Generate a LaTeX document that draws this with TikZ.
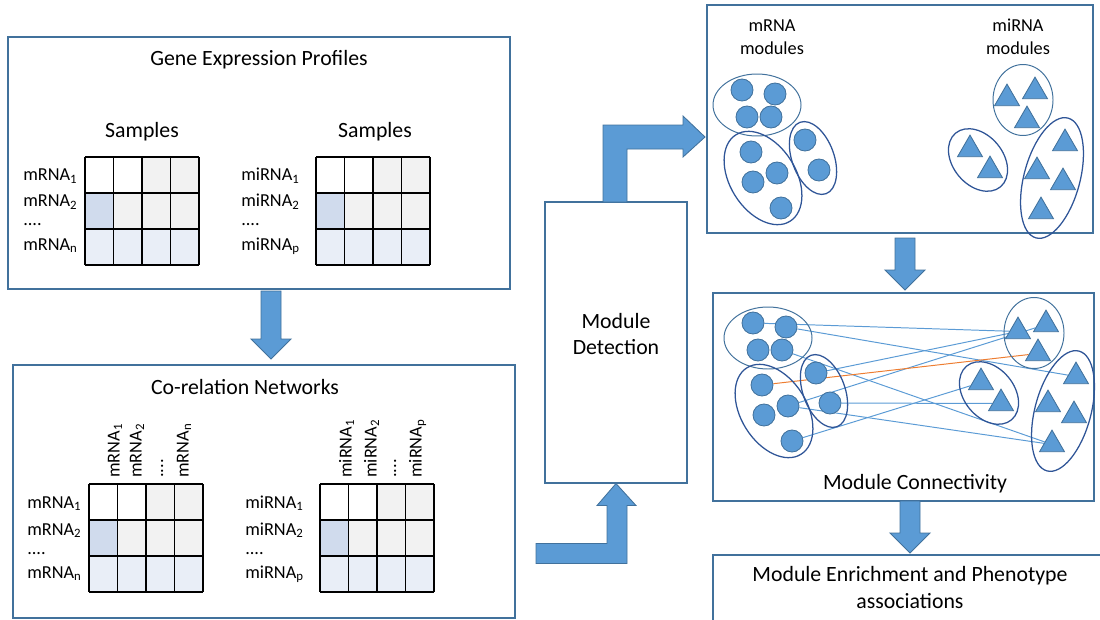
\documentclass[tikz,border=0pt]{standalone}
\usepackage{fontspec}
\setmainfont{Carlito}
\usetikzlibrary{fit,backgrounds,shapes.geometric}

\definecolor{boxblue}{HTML}{41719C}
\definecolor{fillblue}{HTML}{5B9BD5}
\definecolor{ringdark}{HTML}{2F5597}
\definecolor{linkorange}{HTML}{ED7D31}
\definecolor{cellgray}{HTML}{F2F2F2}
\definecolor{cellblue}{HTML}{D0DBED}
\definecolor{celllight}{HTML}{E9EEF7}

\tikzset{
  panel/.style={draw=boxblue, line width=0.75pt, inner sep=0pt},
  heading/.style={font=\fontsize{15.5}{19}\selectfont, align=center, inner sep=0pt},
  rowlabel/.style={font=\fontsize{13}{15}\selectfont, anchor=base west, inner sep=0pt},
  collabel/.style={rowlabel, rotate=90},
  gene/.style={circle, fill=fillblue, draw=boxblue, line width=0.6pt, minimum size=5.5mm, inner sep=0pt},
  mirna/.style={regular polygon, regular polygon sides=3, fill=fillblue, draw=boxblue, line width=0.6pt, minimum size=7.2mm, inner sep=0pt},
  ringlight/.style={draw=boxblue, line width=0.7pt},
  ringdeep/.style={draw=ringdark, line width=0.9pt},
  link/.style={fillblue, line width=0.7pt},
  gridline/.style={black, line width=0.9pt},
  blockarrow/.style={fill=fillblue, draw=boxblue, line width=0.6pt},
  matgrid/.pic={
    \fill[cellgray] (57,0) rectangle (114,36);
    \fill[cellgray] (28.5,36) rectangle (114,72);
    \fill[cellblue] (0,36) rectangle (28.5,72);
    \fill[celllight] (0,72) rectangle (114,108);
    \foreach \i in {0,...,4} \draw[gridline] (\i*28.5,0) -- (\i*28.5,108);
    \foreach \j in {0,...,3} \draw[gridline] (0,\j*36) -- (114,\j*36);
  },
  downarrow/.pic={
    \draw[blockarrow] (0,0) -- (20,-20) -- (10,-20) -- (10,-20-#1) -- (-10,-20-#1) -- (-10,-20) -- (-20,-20) -- cycle;
  }
}

% circles, triangles and their rings (drawn twice)
\newcommand{\modulegroups}{%
  \foreach \n/\x/\y in {a/742/90, b/775/94, c/747/117, d/771/117, e/751/152, f/753/182, g/777/173, h/781/208, i/805/140, j/819/170}
    \node[gene] (\n) at (\x,\y) {};
  \foreach \n/\x/\y in {t1/1007/95, t2/1035/88, t3/1027/117, v1/970/146, v2/990/167, u1/1065/140, u2/1037/168, u3/1063/179, u4/1041/208}
    \node[mirna] (\n) at (\x,\y+3.5) {};
  \draw[ringlight] (757,105) ellipse (44 and 31);
  \draw[ringdeep, rotate around={-58:(763,178)}] (763,178) ellipse (51 and 33);
  \draw[ringdeep, rotate around={-70:(813,158)}] (813,158) ellipse (38 and 21);
  \draw[ringlight] (1023,100) ellipse (30 and 35.5);
  \draw[ringdeep, rotate around={-50:(978,160)}] (978,160) ellipse (35 and 25);
  \draw[ringdeep, rotate around={-105:(1052,178)}] (1052,178) ellipse (62 and 28);
}

\begin{document}
\begin{tikzpicture}[x=0.25mm, y=-0.25mm]
  \useasboundingbox (0,0) rectangle (1100,620);
  \clip (0,0) rectangle (1100,620);

  % gene expression profiles
  \node[panel, fit={(8,37) (510,289)}] (gep) {};
  \node[heading, anchor=base] at (259,65) {Gene Expression Profiles};
  \node[heading, anchor=base] at (142,137) {Samples};
  \node[heading, anchor=base] at (375,138) {Samples};
  \pic at (85,157) {matgrid};
  \pic at (316,157) {matgrid};
  \foreach \y/\s in {180.5/1, 206.5/2, 250/n} \node[rowlabel] at (23,\y) {mRNA\textsubscript{\s}};
  \foreach \y/\s in {180.5/1, 206.5/2, 250/p} \node[rowlabel] at (241,\y) {miRNA\textsubscript{\s}};
  \node[rowlabel] at (23,225) {....};
  \node[rowlabel] at (241,225) {....};

  % co-relation networks
  \node[panel, fit={(13,365) (515,618)}] (crn) {};
  \node[heading, anchor=base] at (245,394) {Co-relation Networks};
  \pic at (89,484) {matgrid};
  \pic at (320,484) {matgrid};
  \foreach \y/\s in {508/1, 535/2, 578/n} \node[rowlabel] at (27,\y) {mRNA\textsubscript{\s}};
  \foreach \y/\s in {508/1, 535/2, 578/p} \node[rowlabel] at (245,\y) {miRNA\textsubscript{\s}};
  \node[rowlabel] at (27,554) {....};
  \node[rowlabel] at (245,554) {....};
  \foreach \x/\s in {119.5/1, 141.5/2, 188.5/n} \node[collabel] at (\x,478) {mRNA\textsubscript{\s}};
  \foreach \x/\s in {351.5/1, 376.5/2, 421.5/p} \node[collabel] at (\x,478) {miRNA\textsubscript{\s}};
  \node[collabel] at (163,478) {....};
  \node[collabel] at (396,478) {....};

  % module detection
  \node[panel, fit={(545,202) (687,483)}] (md) {};
  \node[heading] at (616,334) {Module\\Detection};

  % modules found
  \node[panel, fit={(707,5) (1093,233)}] (mods) {};
  \node[heading, font=\fontsize{13}{16.4}\selectfont] at (772,37) {mRNA\\modules};
  \node[heading, font=\fontsize{13}{16.4}\selectfont] at (1018,37) {miRNA\\modules};
  \begin{scope}[name prefix=top-]
    \modulegroups
  \end{scope}

  % connectivity between modules
  \node[panel, fit={(713,293) (1094,501)}] (conn) {};
  \node[heading, anchor=base] at (915,489) {Module Connectivity};
  \begin{scope}[shift={(11,233)}, name prefix=net-]
    \modulegroups
    \begin{scope}[on background layer]
      \draw[link] (a) -- (t1);
      \draw[link] (b) -- (u1);
      \draw[link] (d) -- (u4);
      \draw[link] (i) -- (t1);
      \draw[link] (g) -- (t2);
      \draw[link] (g) -- (u4);
      \draw[link] (j) -- (v2);
      \draw[link] (h) -- (v1);
      \draw[link, linkorange] (e) -- (t3);
    \end{scope}
  \end{scope}

  % enrichment
  \node[panel, fit={(713,555) (1120,640)}] (enr) {};
  \node[heading] at (910,587.5) {Module Enrichment and Phenotype\\associations};

  % block arrows
  \pic at (271,359) {downarrow=48};
  \pic at (905,290) {downarrow=32};
  \pic at (910,553) {downarrow=32};
  \draw[blockarrow] (md.south) -- ++(20,22) -- ++(-9,0) -- ++(0,58) -- ++(-91,0) -- ++(0,-20) -- ++(71,0) -- ++(0,-38) -- ++(-10,0) -- cycle;
  \draw[blockarrow] (705,137) -- ++(-22,-21) -- ++(0,9) -- ++(-80,0) -- ++(0,77) -- ++(24,0) -- ++(0,-53) -- ++(56,0) -- ++(0,8) -- cycle;
\end{tikzpicture}
\end{document}
